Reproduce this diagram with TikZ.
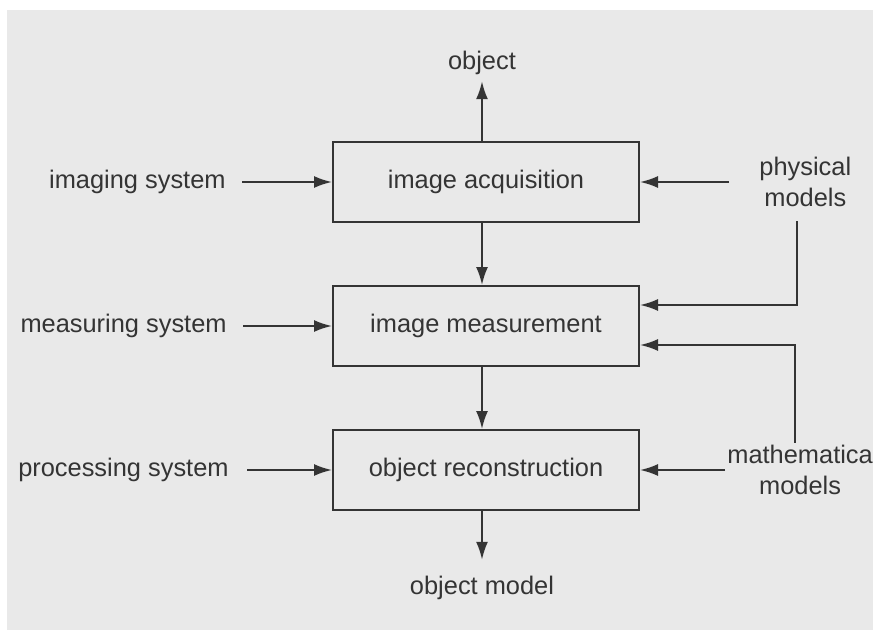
\documentclass[tikz,border=0pt]{standalone}
\usepackage{fontspec}
\setmainfont{Liberation Sans}
\usepackage{xcolor}
\usetikzlibrary{arrows.meta,positioning}

\definecolor{paper}{RGB}{233,233,233}
\definecolor{ink}{RGB}{52,52,52}

\begin{document}
\begin{tikzpicture}[x=0.5pt,y=-0.5pt,
  stage/.style={draw=ink, line width=1pt, minimum width=153pt, minimum height=40pt, text=ink, font=\fontsize{12.7}{15.5}\selectfont},
  txt/.style={text=ink, inner sep=0pt, align=center, font=\fontsize{12.7}{15.5}\selectfont},
  arr/.style={draw=ink, line width=1pt, -{Latex[length=9pt,width=6pt]}}]
\useasboundingbox (0,0) rectangle (873,631);
\fill[white] (0,0) rectangle (873,631);
\fill[paper] (7,10) rectangle (873,630);

\node[stage] (acq) at (486,182) {image acquisition};
\node[stage, below=31pt of acq] (meas) {image measurement};
\node[stage, below=31pt of meas] (recon) {object reconstruction};

\node[txt] (obj) at (482,63) {object};
\node[txt] (objmod) at (482,588) {object model};

\node[txt, left=53pt of acq] (imgsys) {imaging system};
\node[txt, left=52.5pt of meas] (meassys) {measuring system};
\node[txt, left=51.5pt of recon] (procsys) {processing system};

\node[txt, right=59.5pt of acq] (phys) {physical\\models};
\node[txt, right=43.5pt of recon] (math) {mathematica\\models};

\draw[arr, shorten >=3pt] (acq.north -| obj) -- (obj);
\draw[arr] (acq.south -| obj) -- (meas.north -| obj);
\draw[arr] (meas.south -| obj) -- (recon.north -| obj);
\draw[arr, shorten >=8pt] (recon.south -| obj) -- (objmod);

\draw[arr, shorten <=8pt] (imgsys) -- (acq);
\draw[arr, shorten <=8pt] (meassys) -- (meas);
\draw[arr, shorten <=9pt] (procsys) -- (recon);

\draw[arr, shorten <=15pt] (phys) -- (acq);
\draw[arr, shorten <=1pt] (math) -- (recon);

\coordinate (pturn) at (797,305);
\coordinate (mturn) at (795,345);
\draw[arr, shorten <=7pt] (phys.south -| pturn) -- (pturn) -- (meas.east |- pturn);
\draw[arr, shorten <=1pt] (math.north -| mturn) -- (mturn) -- (meas.east |- mturn);
\end{tikzpicture}
\end{document}
